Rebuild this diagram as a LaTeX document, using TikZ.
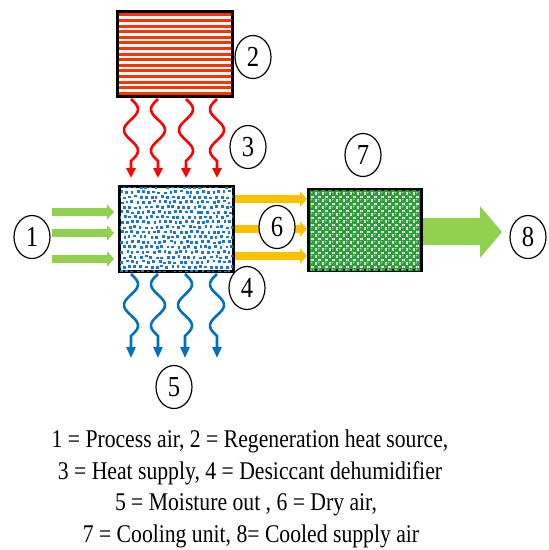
\documentclass[tikz,border=0pt]{standalone}
\usepackage{fontspec}
\setmainfont{Liberation Serif}[FakeStretch=0.85]
\usetikzlibrary{arrows.meta,shapes.geometric,calc}
\definecolor{redline}{HTML}{FF0000}
\definecolor{stripe}{HTML}{FF3300}
\definecolor{dotblue}{HTML}{1E78C8}
\definecolor{arrblue}{HTML}{0070C0}
\definecolor{lgreen}{HTML}{92D050}
\definecolor{dgreen}{HTML}{2E9E3A}
\definecolor{amber}{HTML}{FFC000}
\begin{document}
\begin{tikzpicture}[x=1pt,y=-1pt,
  numlabel/.style={ellipse, draw, line width=1.2pt, fill=white, minimum width=36pt,
    minimum height=43pt, inner sep=0pt, font=\fontsize{29}{29}\selectfont},
  unitbox/.style={draw, line width=3pt, inner sep=0pt},
  captext/.style={anchor=base, font=\fontsize{25.5}{30}\selectfont, inner sep=0pt},
  flatarrow/.style={line width=8pt, -{Triangle[width=15pt,length=7pt]}},
  heat/.style={redline, line width=2.6pt, -{Triangle[width=9pt,length=10pt]}},
  wet/.style={arrblue, line width=2.6pt, -{Triangle[width=9pt,length=11pt]}}
]
\useasboundingbox (0,0) rectangle (549,550);

% boxes
\node[unitbox, minimum width=115pt, minimum height=85pt] (b2) at (175,54) {};
\node[unitbox, minimum width=114pt, minimum height=85pt] (b4) at (176.5,229) {};
\node[unitbox, minimum width=113pt, minimum height=81pt] (b7) at (365,230) {};

% red stripes (heat source)
\begin{scope}
  \clip (119,13) rectangle (231,95);
  \foreach \k in {0,...,15}
    \fill[stripe] (117,13.3+\k*5.6) rectangle (233,16.3+\k*5.6);
\end{scope}

% blue dots (desiccant)
\begin{scope}
  \clip (120,187) rectangle (233,271);
  \pgfmathsetseed{7}
  \foreach \i in {0,...,21}{
    \foreach \j in {0,...,17}{
      \pgfmathsetmacro\px{119+5.4*\i+2.7*mod(\j,2)+1.0*rand}
      \pgfmathsetmacro\py{187+5.0*\j+1.0*rand}
      \fill[dotblue] (\px-1.4,\py-1.4) rectangle ++(2.8,2.8);
    }
  }
\end{scope}

% green pattern (cooling unit)
\begin{scope}
  \clip (310,190) rectangle (420,270);
  \foreach \i in {0,...,16}{
    \foreach \j in {0,...,12}{
      \fill[dgreen] (309+7*\i-1.7,190+7*\j-1.7) rectangle ++(3.4,3.4);
      \fill[dgreen] (309+7*\i+3.5,190+7*\j+3.5) circle (2.9);
      \fill[white!55!dgreen] (309+7*\i+2.6,190+7*\j+2.6) circle (0.9);
    }
  }
\end{scope}

% heat supply (wavy red)
\foreach \xx/\s in {131/1,158/-1,186/1,217/-1}
  \draw[heat] plot[domain=0:1,samples=40,smooth,variable=\t]
     ({\xx+7*\s*sin(540*\t)},{99+62*\t}) -- (\xx,178);

% moisture out (wavy blue)
\foreach \xx/\s in {131/1,158/-1,185/1,217/-1}
  \draw[wet] plot[domain=0:1,samples=40,smooth,variable=\t]
     ({\xx+7*\s*sin(540*\t)},{274+62*\t}) -- (\xx,358);

% process air (green, left)
\foreach \dy in {17,-4,-30}
  \draw[flatarrow, lgreen] ([xshift=-66pt,yshift=\dy pt]b4.west) -- ([xshift=-4pt,yshift=\dy pt]b4.west);

% dry air (orange)
\foreach \dy in {30,0,-27}
  \draw[flatarrow, amber] ([yshift=\dy pt]b4.east) -- ([yshift=\dy pt]b4.east -| b7.west);

% cooled supply air (big green arrow)
\fill[lgreen, shift={(b7.east)}] (0,-12) -- (57,-12) -- (57,-24) -- (79,2) -- (57,28) -- (57,15) -- (0,15) -- cycle;

% number labels
\node[numlabel] (l1) at (32,237) {1};
\node[numlabel] (l2) at (253,57) {2};
\node[numlabel] (l3) at (248,147) {3};
\node[numlabel] (l4) at (247,288) {4};
\node[numlabel] (l5) at (174,387) {5};
\node[numlabel] (l6) at (277,227) {6};
\node[numlabel] (l7) at (363,155) {7};
\node[numlabel] (l8) at (528,237) {8};

% caption
\node[captext] (c1) at (250,447) {1 = Process air, 2 = Regeneration heat source,};
\node[captext] (c2) at (250,479) {3 = Heat supply, 4 = Desiccant dehumidifier};
\node[captext] (c3) at (246,510) {5 = Moisture out , 6 = Dry air,};
\node[captext] (c4) at (251,542) {7 = Cooling unit, 8= Cooled supply air};
\end{tikzpicture}
\end{document}
